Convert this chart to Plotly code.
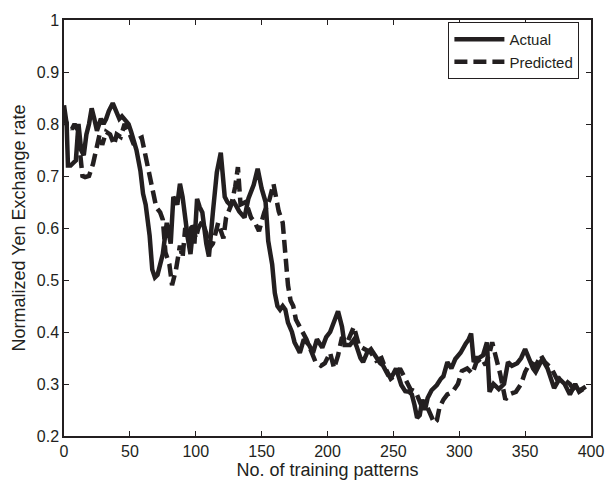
import plotly.graph_objects as go

actual_x = [0, 2, 3, 5, 7, 9, 11, 13, 15, 17, 19, 21, 23, 25, 28, 30, 32, 34, 37, 40, 42, 44, 46, 49,
            51, 53, 55, 58, 60, 62, 65, 67, 69, 71, 73, 75, 76, 78, 81, 83, 86, 88, 90, 92, 94, 96,
            98, 99, 101, 103, 105, 108, 110, 113, 116, 119, 122, 124, 126, 129, 131, 133, 137, 140,
            144, 147, 150, 153, 155, 158, 160, 162, 164, 166, 168, 170, 173, 175, 177, 179, 182,
            186, 189, 192, 196, 199, 202, 206, 208, 211, 213, 217, 220, 222, 225, 227, 230, 233,
            237, 240, 242, 246, 249, 252, 256, 259, 262, 264, 266, 268, 270, 272, 274, 276, 279,
            283, 286, 288, 291, 294, 297, 301, 305, 307, 309, 311, 313, 315, 318, 321, 323, 326,
            330, 334, 337, 340, 344, 347, 350, 353, 356, 358, 361, 363, 367, 370, 372, 376, 380,
            384, 388, 391, 394]
actual_y = [0.836, 0.80, 0.72, 0.72, 0.725, 0.73, 0.80, 0.75, 0.74, 0.78, 0.80, 0.83, 0.81, 0.787,
            0.81, 0.80, 0.81, 0.825, 0.84, 0.82, 0.81, 0.815, 0.81, 0.80, 0.785, 0.768, 0.75,
            0.71, 0.666, 0.645, 0.585, 0.52, 0.505, 0.51, 0.53, 0.55, 0.57, 0.61, 0.57, 0.66,
            0.645, 0.685, 0.66, 0.61, 0.58, 0.55, 0.60, 0.57, 0.656, 0.64, 0.63, 0.57, 0.545,
            0.63, 0.707, 0.745, 0.66, 0.65, 0.645, 0.65, 0.64, 0.632, 0.62, 0.657, 0.683, 0.714,
            0.676, 0.65, 0.575, 0.53, 0.475, 0.45, 0.443, 0.45, 0.443, 0.418, 0.40, 0.38, 0.37,
            0.36, 0.386, 0.375, 0.36, 0.386, 0.37, 0.39, 0.40, 0.424, 0.44, 0.41, 0.375, 0.375,
            0.385, 0.373, 0.35, 0.342, 0.36, 0.367, 0.35, 0.34, 0.336, 0.317, 0.315, 0.33, 0.298,
            0.286, 0.285, 0.28, 0.26, 0.235, 0.24, 0.27, 0.25, 0.273, 0.288, 0.298, 0.31, 0.315,
            0.342, 0.33, 0.348, 0.36, 0.378, 0.385, 0.397, 0.342, 0.35, 0.35, 0.355, 0.38, 0.285,
            0.30, 0.29, 0.30, 0.342, 0.335, 0.34, 0.35, 0.367, 0.348, 0.33, 0.323, 0.34, 0.348,
            0.33, 0.31, 0.292, 0.31, 0.30, 0.28, 0.30, 0.285, 0.29]

pred_x = [0, 2, 4, 6, 8, 10, 12, 14, 16, 19, 22, 24, 27, 29, 32, 35, 38, 40, 43, 46, 50, 53, 56,
          59, 61, 64, 67, 70, 73, 75, 77, 80, 82, 85, 88, 90, 92, 95, 97, 100, 102, 105, 108, 110,
          113, 117, 121, 123, 127, 130, 132, 134, 138, 142, 145, 148, 152, 156, 159, 163, 166,
          168, 170, 172, 174, 176, 180, 184, 187, 191, 195, 198, 202, 205, 208, 211, 215, 220,
          224, 228, 233, 237, 241, 244, 248, 252, 255, 259, 263, 267, 271, 275, 279, 281, 283,
          285, 288, 291, 295, 299, 302, 306, 310, 313, 317, 320, 323, 325, 328, 331, 335, 338,
          343, 347, 350, 354, 358, 362, 365, 370, 374, 379, 384, 388, 393, 396]
pred_y = [0.82, 0.80, 0.80, 0.79, 0.80, 0.79, 0.75, 0.70, 0.698, 0.70, 0.723, 0.75, 0.78, 0.76,
          0.785, 0.78, 0.76, 0.78, 0.775, 0.80, 0.78, 0.76, 0.77, 0.774, 0.75, 0.71, 0.68, 0.64,
          0.63, 0.616, 0.553, 0.53, 0.49, 0.52, 0.566, 0.543, 0.60, 0.58, 0.61, 0.58, 0.60, 0.613,
          0.59, 0.56, 0.57, 0.61, 0.58, 0.62, 0.645, 0.68, 0.717, 0.645, 0.65, 0.62, 0.61, 0.594,
          0.63, 0.655, 0.685, 0.632, 0.61, 0.537, 0.49, 0.46, 0.45, 0.424, 0.405, 0.386, 0.367,
          0.342, 0.335, 0.34, 0.36, 0.33, 0.355, 0.39, 0.38, 0.41, 0.373, 0.367, 0.36, 0.345,
          0.35, 0.33, 0.31, 0.318, 0.33, 0.31, 0.29, 0.285, 0.26, 0.26, 0.235, 0.225, 0.23, 0.255,
          0.27, 0.28, 0.285, 0.30, 0.325, 0.33, 0.32, 0.342, 0.35, 0.336, 0.36, 0.38, 0.35, 0.32,
          0.27, 0.28, 0.285, 0.30, 0.323, 0.342, 0.335, 0.355, 0.342, 0.33, 0.31, 0.31, 0.30,
          0.285, 0.29, 0.295]

x_ticks = [0, 50, 100, 150, 200, 250, 300, 350, 400]
y_ticks = [0.2, 0.3, 0.4, 0.5, 0.6, 0.7, 0.8, 0.9, 1.0]
y_ticklabels = ["0.2", "0.3", "0.4", "0.5", "0.6", "0.7", "0.8", "0.9", "1"]

ink = "#231f20"
font = "Liberation Sans, Arial, sans-serif"

fig = go.Figure()
fig.add_trace(go.Scatter(x=actual_x, y=actual_y, mode="lines", name="Actual",
                         line=dict(color=ink, width=4.5)))
fig.add_trace(go.Scatter(x=pred_x, y=pred_y, mode="lines", name="Predicted",
                         line=dict(color=ink, width=4.5, dash="13px,6px")))

axis_common = dict(showline=True, linecolor=ink, linewidth=1.5, mirror="ticks",
                   ticks="inside", ticklen=5, tickcolor=ink, tickwidth=1,
                   showgrid=False, zeroline=False,
                   tickfont=dict(family=font, size=16, color=ink))

fig.update_xaxes(range=[0, 400], tickvals=x_ticks,
                 title=dict(text="No. of training patterns", font=dict(family=font, size=18, color=ink),
                            standoff=0),
                 **axis_common)
fig.update_yaxes(range=[0.2, 1.0], tickvals=y_ticks, ticktext=y_ticklabels,
                 title=dict(text="Normalized Yen Exchange rate", font=dict(family=font, size=18, color=ink),
                            standoff=6),
                 **axis_common)

fig.update_layout(
    width=616, height=485,
    margin=dict(l=64, r=13, t=15, b=47),
    paper_bgcolor="white", plot_bgcolor="white",
    showlegend=True,
    legend=dict(x=0.978, y=0.995, xanchor="right", yanchor="top",
                bgcolor="white", bordercolor=ink, borderwidth=1,
                font=dict(family=font, size=15, color=ink),
                itemwidth=50),
)

fig.write_html("out.html")
